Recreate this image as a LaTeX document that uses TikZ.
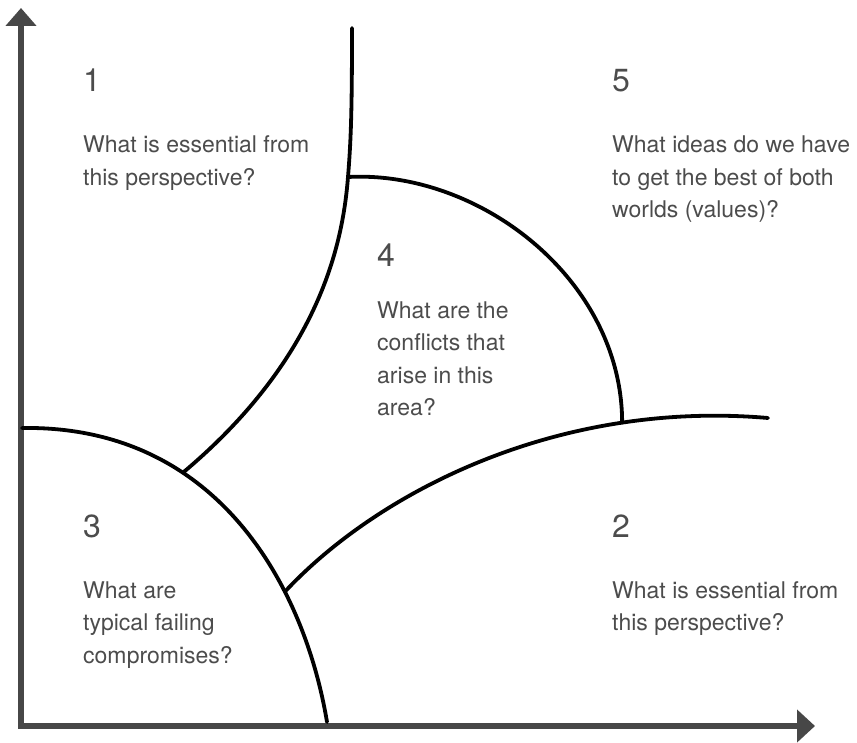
\documentclass[tikz,border=0pt]{standalone}
\usepackage{fontspec}
\setmainfont{TeX Gyre Heros}
\usetikzlibrary{arrows.meta}

\tikzset{
  axis/.style={line width=6pt,draw=black!72,line join=miter},
  border/.style={line width=3.8pt,draw=black,line cap=round},
  num/.style={anchor=base west,inner sep=0pt,text=black!70,font=\fontsize{32}{36}\selectfont},
  question/.style={anchor=base west,inner sep=0pt,align=left,text=black!70,font=\fontsize{23}{32.5}\selectfont}
}

\begin{document}
\begin{tikzpicture}[x=1pt,y=-1pt]
\useasboundingbox (0,0) rectangle (857,743);
% axes
\draw[axis,{Triangle[length=18pt,width=30pt]}-{Triangle[length=18pt,width=32pt]}] (21,8) -- (21,726) -- (815,726);
% region borders
\draw[border] (22,428) .. controls (220,425) and (305,590) .. (327,722)
  coordinate[pos=0.33] (j13) coordinate[pos=0.68] (j23);
\draw[border] (352,28) .. controls (352,110) and (351,140) .. (348,177) coordinate (j14)
  .. controls (343,240) and (322,356) .. (j13);
\draw[border] (j23) .. controls (380,490) and (560,400) .. (768,418)
  coordinate[pos=0.757] (j24);
\draw[border] (j14) .. controls (480,170) and (622,280) .. (j24);
% numbers
\foreach \n/\x/\y in {1/83/92,2/612/537,3/83/537,4/377/267,5/612/92}{
\node[num] (n\n) at (\x,\y) {\n};
}
% questions (anchored at the baseline of their last line)
\node[question] (q1) at (83,185.5) {What is essential from\\this perspective?};
\node[question] (q5) at (612,218) {What ideas do we have\\to get the best of both\\worlds (values)?};
\node[question] (q4) at (377,415.5) {What are the\\conflicts that\\arise in this\\area?};
\node[question] (q3) at (83,663) {What are\\typical failing\\compromises?};
\node[question] (q2) at (612,630.5) {What is essential from\\this perspective?};
\end{tikzpicture}
\end{document}
